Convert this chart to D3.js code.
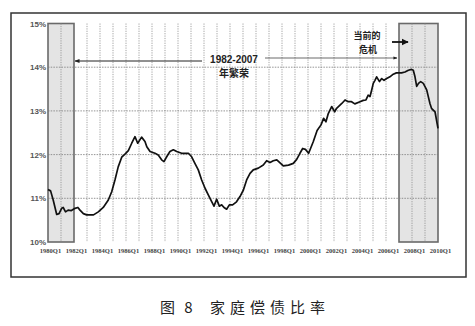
<!DOCTYPE html>
<html><head><meta charset="utf-8">
<script src="https://cdn.jsdelivr.net/npm/d3@7"></script>
<style>html,body{margin:0;padding:0;background:#fff;}svg{display:block;}</style>
</head><body>
<svg id="chart" width="475" height="326"></svg>
<script>
// ---- data ----
const dates = [1980.0,1980.2,1980.4,1980.67,1980.85,1981.05,1981.17,1981.35,1981.55,1981.8,
1982.08,1982.3,1982.46,1982.72,1982.97,1983.5,1983.87,1984.25,1984.64,1984.9,
1985.15,1985.4,1985.67,1985.92,1986.18,1986.44,1986.69,1986.9,1987.2,1987.46,
1987.6,1987.85,1988.23,1988.48,1988.74,1988.92,1989.13,1989.38,1989.64,1989.9,
1990.28,1990.8,1991.05,1991.3,1991.56,1991.82,1992.08,1992.33,1992.6,1992.77,
1992.97,1993.18,1993.36,1993.54,1993.74,1993.95,1994.2,1994.5,1994.77,1995.03,
1995.28,1995.54,1995.79,1996.18,1996.56,1996.82,1997.08,1997.33,1997.6,1997.85,
1998.1,1998.5,1998.87,1999.13,1999.38,1999.59,1999.8,2000.05,2000.41,2000.7,
2001.0,2001.2,2001.38,2001.56,2001.82,2002.05,2002.2,2002.6,2002.85,2003.1,
2003.35,2003.6,2004.0,2004.25,2004.46,2004.63,2004.77,2004.9,2005.02,2005.15,
2005.28,2005.5,2005.67,2005.85,2006.05,2006.3,2006.56,2006.8,2007.2,2007.46,
2007.72,2007.97,2008.1,2008.23,2008.36,2008.5,2008.67,2008.87,2009.13,2009.38,
2009.5,2009.77,2010.0];
const ratio = [11.20,11.17,10.96,10.63,10.65,10.77,10.79,10.69,10.73,10.72,
10.77,10.79,10.73,10.65,10.62,10.62,10.69,10.79,10.96,11.15,
11.42,11.72,11.94,12.01,12.09,12.26,12.41,12.26,12.40,12.30,
12.18,12.07,12.03,11.99,11.88,11.84,11.95,12.07,12.11,12.07,
12.03,12.03,11.95,11.80,11.65,11.42,11.23,11.08,10.92,10.82,
10.98,10.82,10.85,10.79,10.75,10.85,10.85,10.92,11.04,11.19,
11.42,11.57,11.65,11.69,11.76,11.86,11.82,11.86,11.88,11.81,
11.74,11.76,11.80,11.89,12.03,12.14,12.12,12.03,12.30,12.55,
12.68,12.83,12.75,12.94,13.10,12.98,13.06,13.17,13.25,13.21,
13.21,13.16,13.21,13.24,13.25,13.36,13.33,13.48,13.63,13.70,
13.78,13.67,13.74,13.70,13.74,13.78,13.84,13.87,13.87,13.89,
13.93,13.95,13.93,13.78,13.56,13.63,13.67,13.63,13.48,13.17,
13.06,12.98,12.60];
const xTickYears = [1980,1982,1984,1986,1988,1990,1992,1994,1996,1998,2000,2002,2004,2006,2008,2010];
const xTickLabels = xTickYears.map(y => y + "Q1");
const yTicks = [10,11,12,13,14,15];
const yTickLabels = ["10%","11%","12%","13%","14%","15%"];
const gridYears = d3.range(1980, 2011);
const bands = [[1980,1982],[2007,2010]];
const boomLabel = ["1982-2007","年繁荣"];
const boomSpan = [1982, 2006.85];
const crisisLabel = ["当前的","危机"];
const caption = ["图 8","家庭偿债比率"];

// ---- drawing ----
const svg = d3.select("#chart");
const x = d3.scaleLinear().domain([1980, 2010]).range([48, 438]);
const y = d3.scaleLinear().domain([10, 15]).range([242, 23.5]);

// outer frame
svg.append("rect").attr("x",11).attr("y",13).attr("width",455).attr("height",264)
  .attr("fill","#fff").attr("stroke","#333").attr("stroke-width",1.5);

// shaded bands
svg.selectAll("rect.band").data(bands).join("rect").attr("class","band")
  .attr("x", d => x(d[0])).attr("y", y(15))
  .attr("width", d => x(d[1]) - x(d[0])).attr("height", y(10) - y(15))
  .attr("fill","#e4e4e4").attr("stroke","#6a6a6a").attr("stroke-width",1.6);

// vertical grid
svg.selectAll("line.vg").data(gridYears.filter(d => d !== 1980 && d !== 1982 && d !== 2007 && d !== 2010)).join("line")
  .attr("class","vg")
  .attr("x1", d => x(d)).attr("x2", d => x(d)).attr("y1", y(15)).attr("y2", y(10))
  .attr("stroke","#8a8a8a").attr("stroke-width",0.8).attr("stroke-dasharray","1.2,1.2");

// horizontal grid
svg.selectAll("line.hg").data(yTicks.filter(d => d > 10 && d < 15)).join("line")
  .attr("class","hg")
  .attr("x1", x(1980)).attr("x2", x(2010)).attr("y1", d => y(d)).attr("y2", d => y(d))
  .attr("stroke","#7a7a7a").attr("stroke-width",0.8).attr("stroke-dasharray","1.5,1.2");

// y axis labels
const yAxis = d3.axisLeft(y).tickValues(yTicks).tickSize(0).tickPadding(2)
  .tickFormat((d,i) => yTickLabels[i]);
const gy = svg.append("g").attr("transform", `translate(${x(1980)},0)`).call(yAxis);
gy.select(".domain").remove();
gy.selectAll("text").attr("font-family","Liberation Sans, Arial, sans-serif")
  .attr("font-size","8px").attr("font-weight","bold").attr("fill","#555");

// x axis labels
const xAxis = d3.axisBottom(x).tickValues(xTickYears).tickSize(0).tickPadding(6)
  .tickFormat((d,i) => xTickLabels[i]);
const gx = svg.append("g").attr("transform", `translate(2,${y(10)})`).call(xAxis);
gx.select(".domain").remove();
gx.selectAll("text").attr("font-family","Liberation Serif, serif")
  .attr("font-size","6.5px").attr("font-weight","bold").attr("fill","#444");

// data line
const line = d3.line().x((d,i) => x(dates[i])).y(d => y(d)).curve(d3.curveLinear);
svg.append("path").datum(ratio).attr("d", line)
  .attr("fill","none").attr("stroke","#111").attr("stroke-width",1.7).attr("stroke-linejoin","round");

// arrow markers
const defs = svg.append("defs");
defs.append("marker").attr("id","ah").attr("viewBox","0 0 10 10").attr("refX",9).attr("refY",5)
  .attr("markerWidth",5).attr("markerHeight",5).attr("orient","auto-start-reverse")
  .append("path").attr("d","M0,1 L10,5 L0,9 Z").attr("fill","#222");
defs.append("marker").attr("id","ah2").attr("viewBox","0 0 10 10").attr("refX",9).attr("refY",5)
  .attr("markerWidth",4).attr("markerHeight",4).attr("orient","auto")
  .append("path").attr("d","M0,0 L10,5 L0,10 Z").attr("fill","#111");

// boom annotation
svg.append("line").attr("x1", x(1982)+1).attr("y1", 61).attr("x2", 202).attr("y2", 61)
  .attr("stroke","#222").attr("stroke-width",1).attr("marker-start","url(#ah)");
svg.append("line").attr("x1", 265).attr("y1", 58).attr("x2", x(boomSpan[1])).attr("y2", 58)
  .attr("stroke","#444").attr("stroke-width",0.8).attr("marker-end","url(#ah)");
svg.append("text").attr("x",234).attr("y",63).attr("text-anchor","middle")
  .attr("font-family","Liberation Sans, Arial, sans-serif").attr("font-size","10px").attr("font-weight","bold")
  .attr("fill","#222").text(boomLabel[0]);
svg.append("text").attr("x",234).attr("y",76.5).attr("text-anchor","middle")
  .attr("font-family","Noto Sans CJK SC, sans-serif").attr("font-size","10px").attr("font-weight","bold")
  .attr("fill","#222").text(boomLabel[1]);

// crisis annotation
svg.append("text").attr("x",367).attr("y",39).attr("text-anchor","middle")
  .attr("font-family","Noto Sans CJK SC, sans-serif").attr("font-size","9px").attr("font-weight","bold")
  .attr("fill","#222").text(crisisLabel[0]);
svg.append("text").attr("x",368).attr("y",52.5).attr("text-anchor","middle")
  .attr("font-family","Noto Sans CJK SC, sans-serif").attr("font-size","9px").attr("font-weight","bold")
  .attr("fill","#222").text(crisisLabel[1]);
svg.append("line").attr("x1",392).attr("y1",42).attr("x2",408).attr("y2",42)
  .attr("stroke","#111").attr("stroke-width",1.8).attr("marker-end","url(#ah2)");

// caption
svg.append("text").attr("x",160).attr("y",313).attr("letter-spacing","3px")
  .attr("font-family","Noto Sans CJK SC, serif").attr("font-size","15px").attr("font-weight","400")
  .attr("fill","#222").text(caption[0]);
svg.append("text").attr("x",210).attr("y",313).attr("letter-spacing","5px")
  .attr("font-family","Noto Sans CJK SC, serif").attr("font-size","15px").attr("font-weight","400")
  .attr("fill","#222").text(caption[1]);
</script>
</body></html>
